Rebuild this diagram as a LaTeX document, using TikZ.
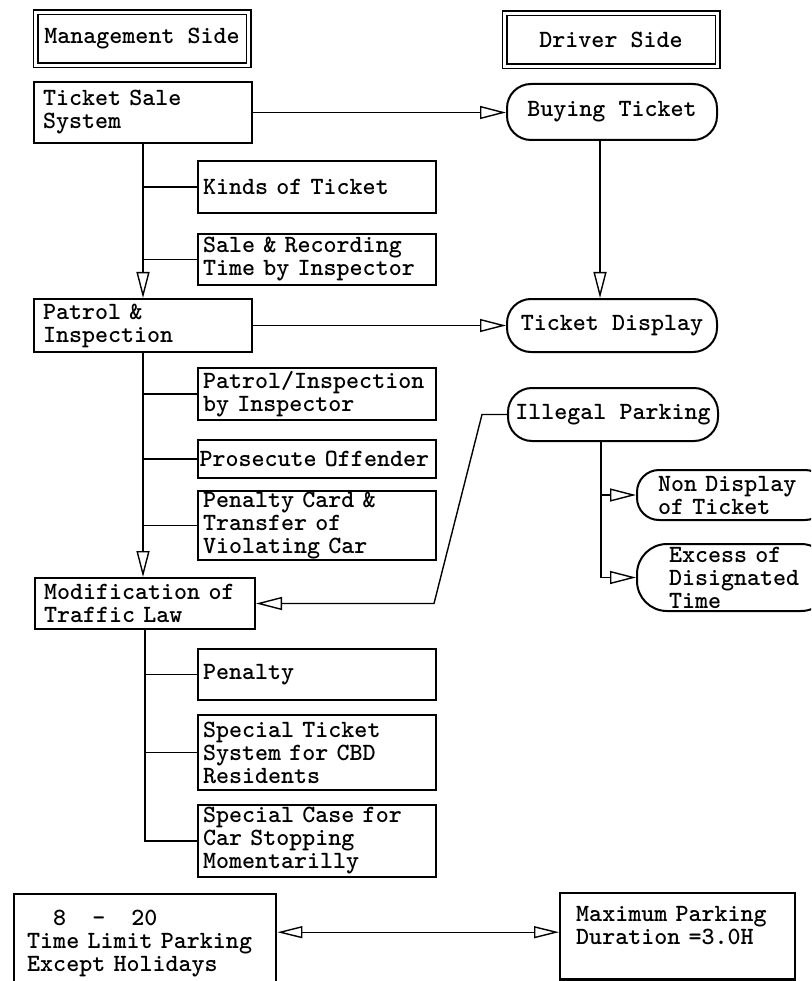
\documentclass[tikz,border=0pt]{standalone}
\usetikzlibrary{arrows.meta,calc}
\begin{document}
\begin{tikzpicture}[x=1pt,y=-1pt,
  every node/.style={font=\fontsize{24.8}{23}\selectfont\ttfamily\bfseries},
  box/.style={draw, line width=2pt, rectangle, anchor=north west, align=left, inner ysep=1pt},
  lbox/.style={box, inner xsep=9pt, text width=200pt},
  rbox/.style={box, inner xsep=5pt, text width=228pt},
  rnd/.style={draw, line width=2pt, rounded corners=24pt, anchor=north west, inner sep=0pt, minimum width=210pt},
  hdr/.style={draw, double, double distance=3pt, line width=1.5pt, minimum width=213pt, minimum height=53pt, inner sep=0pt},
  con/.style={line width=1.4pt},
  arr/.style={con, -{Triangle[open, length=26pt, width=13pt]}},
  darr/.style={con, {Triangle[open, length=25pt, width=12pt]}-{Triangle[open, length=25pt, width=12pt]}},
]
\useasboundingbox (0,0) rectangle (811,981);
\clip (0,0) rectangle (811,981);

% headers
\node[hdr] (mgmt) at (142,39) {Management Side};
\node[hdr] (drv) at (611,40) {Driver Side};

% management side
\node[lbox, minimum height=61pt] (tss) at (33,81) {Ticket Sale\\System};
\node[rbox, minimum height=52pt] (kinds) at (197,160) {Kinds of Ticket};
\node[rbox, minimum height=51pt] (sale) at (197,233) {Sale \& Recording\\Time by Inspector};
\node[lbox, minimum height=53pt] (patrol) at (33,298) {Patrol \&\\Inspection};
\node[rbox, minimum height=52pt] (pinsp) at (197,367) {Patrol/Inspection\\by Inspector};
\node[rbox, minimum height=38pt, inner xsep=1.5pt, text width=235pt] (pros) at (197,439) {Prosecute Offender};
\node[rbox, minimum height=68pt] (pcard) at (197,490) {Penalty Card \&\\Transfer of\\Violating Car};
\node[lbox, minimum height=51pt, text width=202pt] (mod) at (34,577) {Modification of\\Traffic Law};
\node[rbox, minimum height=51pt] (pen) at (197,648) {Penalty};
\node[rbox, minimum height=75pt] (cbd) at (197,714) {Special Ticket\\System for CBD\\Residents};
\node[rbox, minimum height=72pt] (scase) at (197,804) {Special Case for\\Car Stopping\\Momentarilly};

% driver side
\node[rnd, minimum height=56pt] (buy) at (506,83) {Buying Ticket};
\node[rnd, minimum height=53pt] (tdisp) at (506,298) {Ticket Display};
\node[rnd, minimum height=53pt] (illegal) at (507,387) {Illegal Parking};
\node[rnd, minimum height=50pt, minimum width=190pt, align=left, text width=148pt, inner xsep=21pt, rounded corners=22pt] (nondisp) at (636,469) {Non Display\\of Ticket};
\node[rnd, minimum height=67pt, minimum width=194pt, align=left, text width=130pt, inner xsep=32pt, rounded corners=30pt] (excess) at (636,543) {Excess of\\Disignated\\Time};

% bottom
\node[box, line width=2.4pt, inner xsep=13pt, text width=236pt, minimum height=99pt] (limit) at (13,893) {\phantom{00}8\phantom{00}-\phantom{00}20\\Time Limit Parking\\Except Holidays};
\node[box, line width=2.4pt, inner xsep=16pt, inner ysep=13pt, text width=203pt, text depth=45pt] (maxd) at (559,892) {Maximum Parking\\Duration =3.0H};

% connectors
\draw[arr] (tss.south) -- (patrol.north);
\draw[con] (kinds.west) -- (kinds.west -| tss.south);
\draw[con] (sale.west) -- (sale.west -| tss.south);
\draw[arr] (tss.east) -- (tss.east -| buy.west);
\draw[arr] ([xshift=-12pt]buy.south) -- ([xshift=-12pt]tdisp.north);
\draw[arr] (patrol.east) -- (tdisp.west);
\draw[arr] (patrol.south) -- (patrol.south |- mod.north);
\draw[con] (pinsp.west) -- (pinsp.west -| patrol.south);
\draw[con] (pros.west) -- (pros.west -| patrol.south);
\draw[con] (pcard.west) -- (pcard.west -| patrol.south);
\draw[con] (mod.south) |- (scase.west);
\draw[con] (pen.west) -- (pen.west -| mod.south);
\draw[con] (cbd.west) -- (cbd.west -| mod.south);
\draw[arr] (illegal.west) -- ++(-25,0) -- ([xshift=178pt]mod.east) -- (mod.east);
\coordinate (ip) at ([xshift=-12pt]illegal.south);
\draw[arr] (ip) |- (excess.west);
\draw[arr] (nondisp.west -| ip) -- (nondisp.west);
\draw[darr] ([yshift=11.5pt]limit.east) -- ([yshift=11.5pt]limit.east -| maxd.west);
\end{tikzpicture}
\end{document}
